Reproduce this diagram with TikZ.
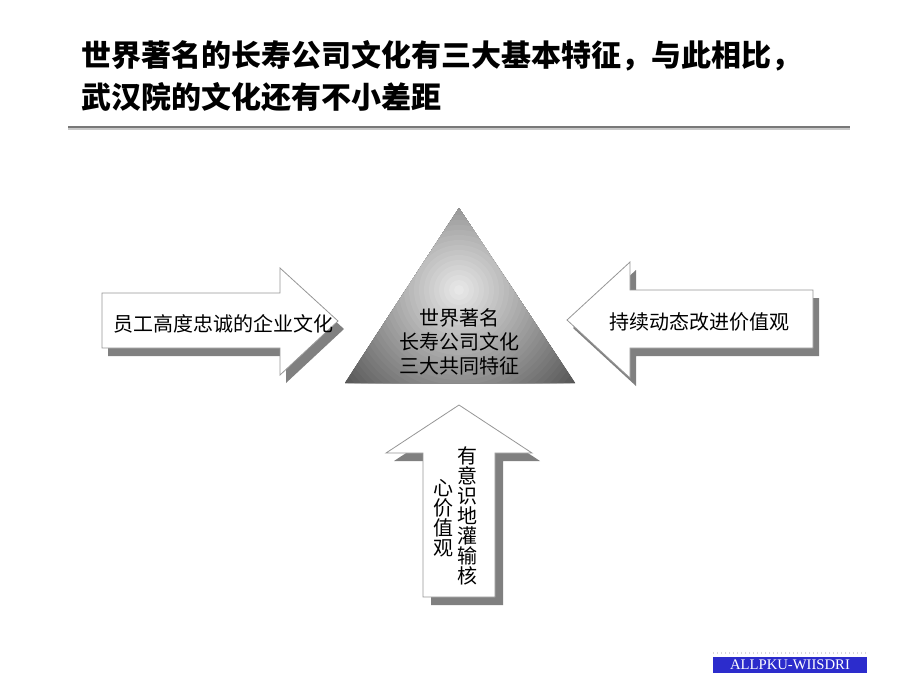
\documentclass[tikz,border=0pt]{standalone}
\usepackage{fontspec}
\setmainfont{Liberation Serif}
\newfontfamily\cjkfont{Noto Sans CJK SC}
\usetikzlibrary{positioning}

\begin{document}
\begin{tikzpicture}[x=0.75pt,y=0.75pt,yscale=-1,xscale=1,
  arrowshape/.style={draw={rgb, 255:red, 150; green, 150; blue, 150}, line width=0.6pt, fill=white},
  arrowshadow/.style={draw=none, fill={rgb, 255:red, 128; green, 128; blue, 128}},
  arrowtext/.style={inner sep=0.75pt, text=black, font=\cjkfont\fontsize{15}{15}\selectfont},
  vtext/.style={inner sep=0.75pt, text=black, align=center, font=\cjkfont\fontsize{15}{15}\selectfont},
  titletext/.style={anchor=west, inner sep=0.75pt, text=black, font=\cjkfont\bfseries\fontsize{22.5}{27}\selectfont}]
\useasboundingbox (0,0) rectangle (920,690);

% Title
\node[titletext] (title1) at (80,56) {世界著名的长寿公司文化有三大基本特征，与此相比，};
\node[titletext] (title2) at (80,97) {武汉院的文化还有不小差距};
%Straight Lines [id:rule]
\draw [color={rgb, 255:red, 200; green, 200; blue, 200}, line width=1.5pt] (68,128.5) -- (850,128.5);
\draw [color={rgb, 255:red, 120; green, 120; blue, 120}, line width=1pt] (68,127) -- (850,127);

%Shape: Arrow left [id:arrowleft]
\draw [arrowshadow] (108,301) -- (286,301) -- (286,276) -- (344,329) -- (286,383) -- (286,356) -- (108,356) -- cycle ;
\draw [arrowshape] (102,293) -- (280,293) -- (280,268) -- (338,321) -- (280,375) -- (280,348) -- (102,348) -- cycle ;
%Shape: Arrow right [id:arrowright]
\draw [arrowshadow] (573,328) -- (636,270) -- (636,298) -- (819,298) -- (819,356) -- (636,356) -- (636,386) -- cycle ;
\draw [arrowshape] (567,320) -- (630,262) -- (630,290) -- (813,290) -- (813,348) -- (630,348) -- (630,378) -- cycle ;
%Shape: Arrow up [id:arrowup]
\draw [arrowshadow] (467,413) -- (540,461) -- (503,461) -- (503,605) -- (431,605) -- (431,461) -- (394,461) -- cycle ;
\draw [arrowshape] (459,405) -- (532,453) -- (495,453) -- (495,597) -- (423,597) -- (423,453) -- (386,453) -- cycle ;

%Shape: Triangle [id:triangle] -- radial grey, light in the middle
\begin{scope}
\clip (459,208) -- (575,383) -- (345,383) -- cycle ;
\foreach \r in {160,155,...,5} {
  \pgfmathtruncatemacro\g{min(232,236-\r)}
  \fill [color={rgb, 255:red, \g; green, \g; blue, \g}] (459,290) circle (\r) ;
}
\end{scope}

% Text Node
\node[arrowtext] (lefttext) at (223,324) {员工高度忠诚的企业文化};
% Text Node
\node[arrowtext] (righttext) at (699,322) {持续动态改进价值观};
% Text Node
\node[inner sep=0.75pt, align=center, text=black, font=\cjkfont\fontsize{15}{18}\selectfont] (tritext) at (459,342) {世界著名\\长寿公司文化\\三大共同特征};
% Text Node
\node[vtext] (uptext1) at (467,516) {有\\意\\识\\地\\灌\\输\\核};
% Text Node
\node[vtext] (uptext2) at (443,518) {心\\价\\值\\观};

%Footer
\draw [color={rgb, 255:red, 215; green, 215; blue, 215}, dotted, line width=1pt] (713,653) -- (867,653);
\node[fill={rgb, 255:red, 44; green, 44; blue, 204}, text=white, minimum width=154*0.75pt, minimum height=16*0.75pt, inner sep=0pt, font=\fontsize{11}{11}\selectfont] (footer) at (790,665) {ALLPKU-WIISDRI};

\end{tikzpicture}
\end{document}
